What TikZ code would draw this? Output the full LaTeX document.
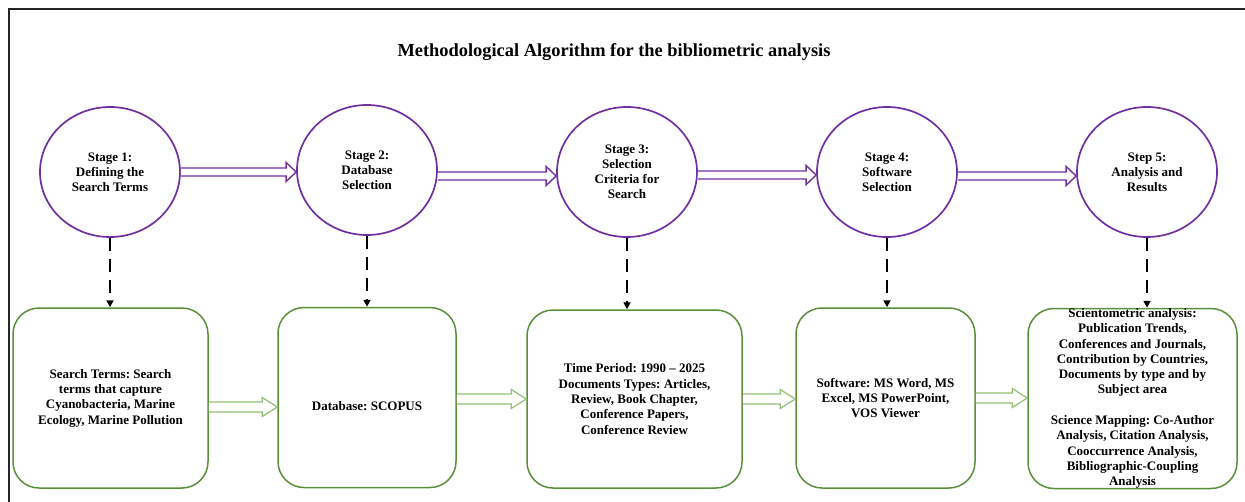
\documentclass[tikz,border=0pt]{standalone}
\usepackage{fontspec}
\setmainfont{Liberation Serif}
\usetikzlibrary{shapes.geometric,arrows.meta,calc}
\definecolor{stagepurple}{HTML}{7030A0}
\definecolor{boxgreen}{HTML}{5A8F3A}
\definecolor{arrowgreen}{HTML}{93BF76}
\frenchspacing
\begin{document}
\begin{tikzpicture}[x=1pt,y=-1pt,
  stage/.style={ellipse, draw=stagepurple, line width=1.7pt, minimum width=140pt, minimum height=130pt, inner sep=0pt,
    font=\bfseries\fontsize{13}{15}\selectfont, align=center},
  box/.style={draw=boxgreen, line width=1.5pt, rounded corners=26pt, minimum height=180pt, inner sep=0pt},
  boxtext/.style={font=\bfseries\fontsize{13}{15.3}\selectfont, align=center, inner sep=0pt},
  purplearrow/.style={draw=stagepurple, line width=1.4pt, line join=miter, fill=white,
    to path={($(\tikztostart)+(0,4)$) -- ($(\tikztotarget)+(-10,4)$) -- ($(\tikztotarget)+(-10,9.5)$)
      -- (\tikztotarget) -- ($(\tikztotarget)+(-10,-9.5)$) -- ($(\tikztotarget)+(-10,-4)$)
      -- ($(\tikztostart)+(0,-4)$)}},
  greenarrow/.style={draw=arrowgreen, line width=1.2pt, line join=miter, fill=white,
    to path={($(\tikztostart)+(0,5)$) -- ($(\tikztotarget)+(-15,5)$) -- ($(\tikztotarget)+(-15,9.5)$)
      -- (\tikztotarget) -- ($(\tikztotarget)+(-15,-9.5)$) -- ($(\tikztotarget)+(-15,-5)$)
      -- ($(\tikztostart)+(0,-5)$)}},
  dasharrow/.style={draw=black, line width=2pt, dash pattern=on 13pt off 8pt, -{Triangle[length=7pt,width=7pt]}},
  titletext/.style={font=\bfseries\fontsize{18.4}{21}\selectfont}
]
\useasboundingbox (0,0) rectangle (1245,501);
\draw[line width=2pt, black!85] (9,520) -- (9,9) -- (1260,9);

\node[titletext] (title) at (614,52) {Methodological Algorithm for the bibliometric analysis};

% stages
\node[stage] (s1) at (110,172) {Stage 1:\\Defining the\\Search Terms};
\node[stage] (s2) at (367,170) {Stage 2:\\Database\\Selection};
\node[stage] (s3) at (627,172) {Stage 3:\\Selection\\Criteria for\\Search};
\node[stage] (s4) at (887,172) {Stage 4:\\Software\\Selection};
\node[stage] (s5) at (1147,172) {Step 5:\\Analysis and\\Results};

% boxes
\node[box, minimum width=195pt] (b1) at (110.5,398) {};
\node[box, minimum width=178pt] (b2) at (367,397.5) {};
\node[box, minimum width=215pt, minimum height=178pt] (b3) at (634.5,399) {};
\node[box, minimum width=179pt] (b4) at (885.5,398) {};
\node[box, minimum width=209pt] (b5) at (1132.5,398.5) {};

\node[boxtext] (t1) at (b1) {Search Terms: Search\\terms that capture\\Cyanobacteria, Marine\\Ecology, Marine Pollution};
\node[boxtext] (t2) at ([yshift=-9pt]b2.center) {Database: SCOPUS};
\node[boxtext] (t3) at (b3) {Time Period: 1990 – 2025\\Documents Types: Articles,\\Review, Book Chapter,\\Conference Papers,\\Conference Review};
\node[boxtext] (t4) at (b4) {Software: MS Word, MS\\Excel, MS PowerPoint,\\VOS Viewer};
\node[boxtext] (t5) at (b5) {Scientometric analysis:\\Publication Trends,\\Conferences and Journals,\\Contribution by Countries,\\Documents by type and by\\Subject area\\[15.3pt]Science Mapping: Co-Author\\Analysis, Citation Analysis,\\Cooccurrence Analysis,\\Bibliographic-Coupling\\Analysis};

% stage arrows
\draw[purplearrow] (s1.east |- 0,172) to (s2.west |- 0,172);
\draw[purplearrow] (s2.east |- 0,176) to (s3.west |- 0,176);
\draw[purplearrow] (s3.east |- 0,175) to (s4.west |- 0,175);
\draw[purplearrow] (s4.east |- 0,176) to (s5.west |- 0,176);

% dashed arrows
\foreach \i in {1,...,5}{
  \draw[dasharrow] (s\i.south) -- (s\i.south |- b\i.north);
}

% box arrows
\draw[greenarrow] (b1.east |- 0,407) to (b2.west |- 0,407);
\draw[greenarrow] (b2.east |- 0,399) to (b3.west |- 0,399);
\draw[greenarrow] (b3.east |- 0,399) to (b4.west |- 0,399);
\draw[greenarrow] (b4.east |- 0,398) to (b5.west |- 0,398);
\end{tikzpicture}
\end{document}
